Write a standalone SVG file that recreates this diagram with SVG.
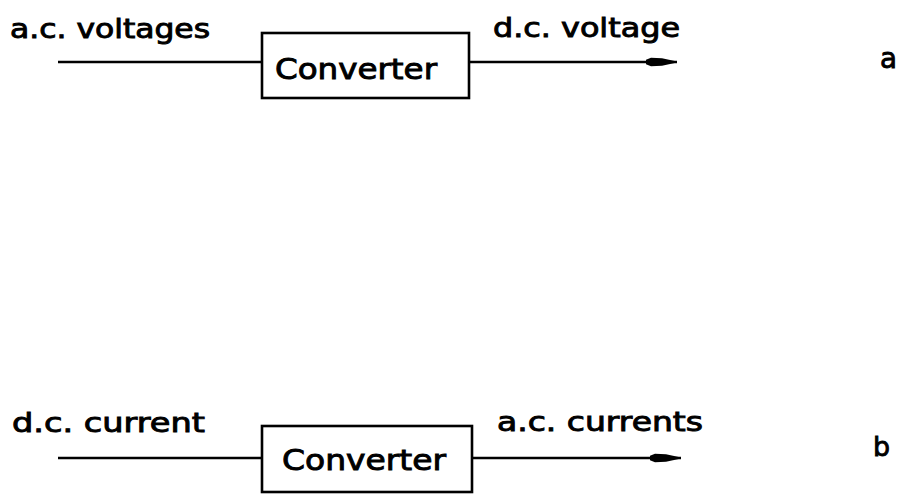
<svg xmlns="http://www.w3.org/2000/svg" width="902" height="494" viewBox="0 0 902 494">
<defs>
<style>
.t{font-family:"DejaVu Sans","Liberation Sans",sans-serif;font-size:26px;fill:#000;stroke:#000;stroke-width:0.9}
.c{font-family:"DejaVu Sans","Liberation Sans",sans-serif;font-size:28px;fill:#000;stroke:#000;stroke-width:0.9}
.box{fill:#fff;stroke:#000;stroke-width:2.6}
.ln{stroke:#000;stroke-width:2.6;fill:none}
</style>
<marker id="ah" markerUnits="userSpaceOnUse" markerWidth="34" markerHeight="12" refX="31" refY="6" orient="auto">
<path d="M0,3.8 L5,1.8 L16,2.2 L31,5.4 L31,6.6 L16,9.8 L5,10.2 L0,8.2 Z" fill="#000"/>
</marker>
</defs>
<rect width="902" height="494" fill="#fff"/>
<g id="connectors">
<line class="ln" x1="58" y1="62" x2="262" y2="62"/>
<line class="ln" x1="469" y1="62" x2="677" y2="62" marker-end="url(#ah)"/>
<line class="ln" x1="58" y1="458" x2="262" y2="458"/>
<line class="ln" x1="472" y1="458" x2="681" y2="458" marker-end="url(#ah)"/>
</g>
<g id="converter-a">
<rect class="box" x="262" y="33" width="207" height="65"/>
<text class="c" x="275" y="79" textLength="162" lengthAdjust="spacingAndGlyphs">Converter</text>
</g>
<g id="converter-b">
<rect class="box" x="262" y="426" width="210" height="66"/>
<text class="c" x="282" y="470" textLength="164" lengthAdjust="spacingAndGlyphs">Converter</text>
</g>
<g id="labels">
<text class="t" x="10" y="38" textLength="200" lengthAdjust="spacingAndGlyphs">a.c. voltages</text>
<text class="t" x="493" y="37" textLength="187" lengthAdjust="spacingAndGlyphs">d.c. voltage</text>
<text class="t" x="12" y="432" textLength="193" lengthAdjust="spacingAndGlyphs">d.c. current</text>
<text class="t" x="497" y="431" textLength="206" lengthAdjust="spacingAndGlyphs">a.c. currents</text>
<text class="t" x="880" y="68" style="font-size:29px" textLength="17" lengthAdjust="spacingAndGlyphs">a</text>
<text class="t" x="873" y="456" style="font-size:27px" textLength="17" lengthAdjust="spacingAndGlyphs">b</text>
</g>
</svg>
